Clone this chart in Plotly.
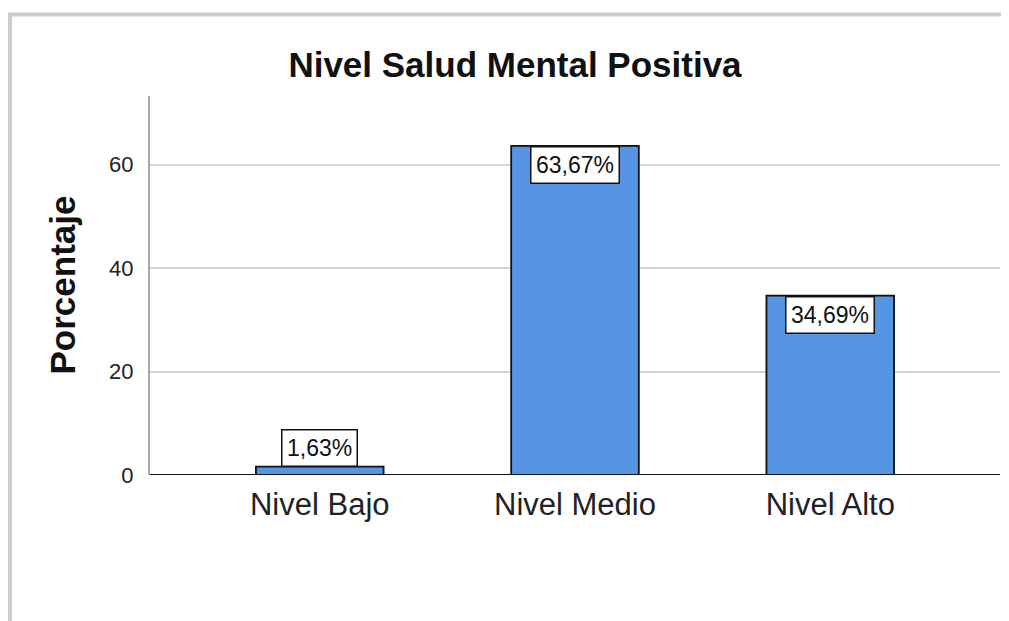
import plotly.graph_objects as go

categories = ["Nivel Bajo", "Nivel Medio", "Nivel Alto"]
percentages = [1.63, 63.67, 34.69]
label_texts = ["1,63%", "63,67%", "34,69%"]
y_ticks = [0, 20, 40, 60]
title_text = "Nivel Salud Mental Positiva"
y_title = "Porcentaje"

OFF = 8  # page body margin offset
W, H = 1009 - OFF, 621 - OFF
L, R, T, B = 150 - OFF, 9, 96 - OFF, 146
pw, ph = W - L - R, H - T - B

BAR = "#5595e3"
FONT = "Liberation Sans, Arial, sans-serif"

fig = go.Figure()
fig.add_trace(go.Bar(
    x=categories, y=percentages, width=0.5,
    marker=dict(color=BAR, line=dict(color="#111111", width=1.8)),
    hoverinfo="skip", showlegend=False,
))

annotations = []
for c, v, t in zip(categories, percentages, label_texts):
    inside = v > 10
    annotations.append(dict(
        x=c, y=v, xref="x", yref="y", text=t, showarrow=False,
        yanchor="top" if inside else "bottom",
        font=dict(family=FONT, size=23, color="#111111"),
        bgcolor="white", bordercolor="#111111", borderwidth=1.5, borderpad=4.5,
    ))

annotations.append(dict(
    x=(62 - OFF - L) / pw, y=0.5, xref="paper", yref="paper", text=f"<b>{y_title}</b>",
    textangle=-90, showarrow=False, xanchor="center", yanchor="middle",
    font=dict(family=FONT, size=35, color="#111111"),
))

fig.update_layout(
    width=W, height=H,
    margin=dict(l=L, r=R, t=T, b=B),
    paper_bgcolor="white", plot_bgcolor="white",
    title=dict(text=f"<b>{title_text}</b>", x=(515 - OFF) / W, xref="container",
               xanchor="center", y=1 - (65 - OFF) / H, yref="container", yanchor="middle",
               font=dict(family=FONT, size=35, color="#111111")),
    xaxis=dict(
        range=[-0.665, 2.665], showgrid=False, zeroline=False,
        showline=False, ticks="", fixedrange=True,
        tickfont=dict(family=FONT, size=31, color="#222222"),
        ticklabelstandoff=8,
    ),
    yaxis=dict(
        range=[0, 73.3], tickvals=y_ticks, ticktext=[str(v) for v in y_ticks],
        showgrid=True, gridcolor="#d4d4d4", gridwidth=2,
        zeroline=False, showline=True, linecolor="#a8a8a8", linewidth=2,
        ticks="", tickfont=dict(family=FONT, size=22, color="#222222"),
        ticklabelstandoff=10,
    ),
    annotations=annotations,
    shapes=[
        dict(type="rect", xref="paper", yref="paper",
             x0=(10 - OFF - L) / pw, x1=(1040 - L) / pw,
             y0=(H - B - 660) / ph, y1=(H - B - (14.5 - OFF)) / ph,
             line=dict(color="#cccccc", width=4), layer="below"),
        dict(type="line", xref="paper", yref="y", x0=0, x1=1, y0=0, y1=0,
             line=dict(color="#111111", width=1.8), layer="above"),
    ],
    bargap=0.5,
)

fig.write_html("out.html")
